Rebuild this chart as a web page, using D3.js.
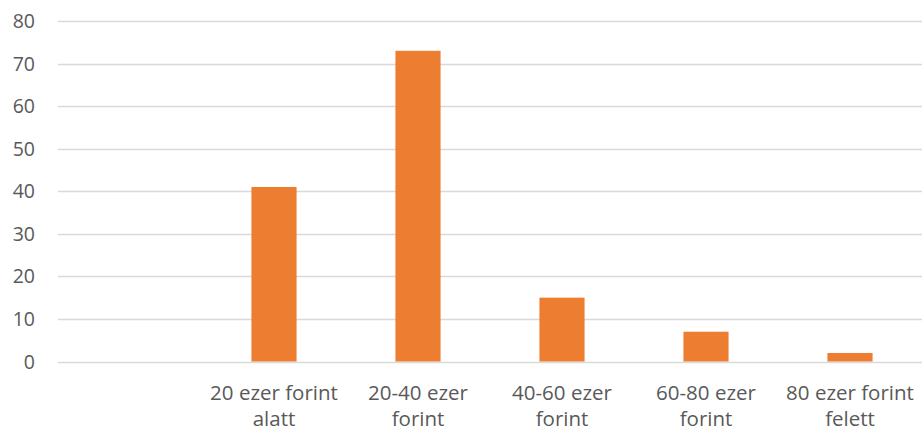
<!DOCTYPE html>
<html>
<head>
<meta charset="utf-8">
<script src="https://cdn.jsdelivr.net/npm/d3@7"></script>
<style>
  html, body { margin: 0; padding: 0; background: #fff; }
  svg { display: block; }
  text { font-family: "Open Sans", "Noto Sans", sans-serif; fill: #595959; }
</style>
</head>
<body>
<svg id="chart" width="922" height="432"></svg>
<script>
// Income brackets (first slot is an empty category)
const categories = ["", "20 ezer forint alatt", "20-40 ezer forint", "40-60 ezer forint", "60-80 ezer forint", "80 ezer forint felett"];
const labelLines = [[], ["20 ezer forint", "alatt"], ["20-40 ezer", "forint"], ["40-60 ezer", "forint"], ["60-80 ezer", "forint"], ["80 ezer forint", "felett"]];
const values = [null, 41, 73, 15, 7, 2];
const yTicks = [0, 10, 20, 30, 40, 50, 60, 70, 80];

const svg = d3.select("#chart");
const margin = { left: 58, right: 0, top: 21, bottom: 70 };
const width = 922, height = 432;

const x = d3.scaleBand()
  .domain(categories)
  .range([margin.left, width - margin.right])
  .padding(0);

const y = d3.scaleLinear()
  .domain([0, 80])
  .range([361.5, margin.top]);

const barW = x.bandwidth() / 3.19;

// Horizontal gridlines
svg.append("g")
  .selectAll("line")
  .data(yTicks)
  .join("line")
  .attr("x1", margin.left)
  .attr("x2", width - margin.right)
  .attr("y1", d => Math.round(y(d)) + 0.5)
  .attr("y2", d => Math.round(y(d)) + 0.5)
  .attr("stroke", "#d9d9d9")
  .attr("stroke-width", 1.3);

// Y tick labels
svg.append("g")
  .selectAll("text")
  .data(yTicks)
  .join("text")
  .attr("x", 35)
  .attr("y", d => y(d))
  .attr("dy", "0.36em")
  .attr("text-anchor", "end")
  .attr("font-size", 19.5)
  .text(d => d);

// Bars
svg.append("g")
  .selectAll("rect")
  .data(categories.map((c, i) => ({ c, v: values[i] })).filter(d => d.v != null))
  .join("rect")
  .attr("x", d => x(d.c) + x.bandwidth() / 2 - barW / 2)
  .attr("width", barW)
  .attr("y", d => y(d.v))
  .attr("height", d => y(0) - y(d.v))
  .attr("fill", "#ED7D31");

// Category labels (two lines each)
const lab = svg.append("g")
  .selectAll("text")
  .data(categories.map((c, i) => ({ c, lines: labelLines[i] })))
  .join("text")
  .attr("text-anchor", "middle")
  .attr("font-size", 20.5);

lab.selectAll("tspan")
  .data(d => d.lines.map((t, j) => ({ t, j, c: d.c })))
  .join("tspan")
  .attr("x", d => x(d.c) + x.bandwidth() / 2)
  .attr("y", d => 400 + d.j * 26)
  .text(d => d.t);
</script>
</body>
</html>
